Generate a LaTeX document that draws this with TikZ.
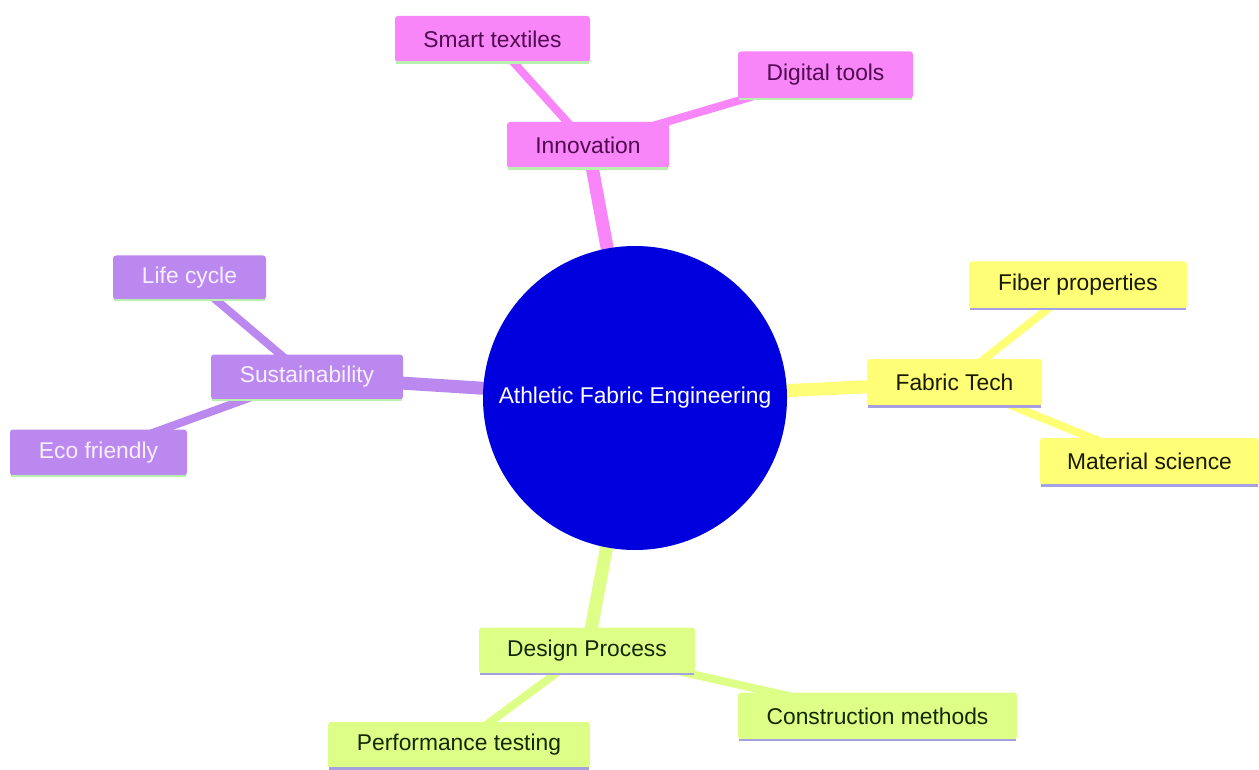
\documentclass[tikz,border=0pt]{standalone}
\usepackage{fontspec}
\setmainfont{Liberation Sans}
\usetikzlibrary{backgrounds}
\definecolor{pinkbox}{RGB}{249,134,249}
\definecolor{purplebox}{RGB}{187,136,240}
\definecolor{yellowbox}{RGB}{255,255,119}
\definecolor{greenbox}{RGB}{221,255,136}
\definecolor{centerblue}{RGB}{0,0,222}
\definecolor{pinktext}{RGB}{80,10,80}
\definecolor{purpletext}{RGB}{248,240,255}
\definecolor{yellowtext}{RGB}{25,25,0}
\definecolor{greentext}{RGB}{20,40,0}
\definecolor{greenline}{RGB}{185,240,175}
\definecolor{lavline}{RGB}{165,160,225}
\tikzset{
  mmbox/.style n args={2}{draw=none, fill=#1, text=#2, rounded corners=3pt,
    inner sep=0pt, font=\fontsize{22.8}{27}\selectfont},
  pinknode/.style={mmbox={pinkbox}{pinktext}},
  purplenode/.style={mmbox={purplebox}{purpletext}},
  yellownode/.style={mmbox={yellowbox}{yellowtext}},
  greennode/.style={mmbox={greenbox}{greentext}},
  underline/.style={line width=2.5pt},
  mainedge/.style={line width=13pt},
  childedge/.style={line width=8pt},
}
\begin{document}
\begin{tikzpicture}[x=1pt,y=-1pt]
\useasboundingbox (0,0) rectangle (1259,770);

\node[circle, fill=centerblue, text=white, minimum size=304pt, inner sep=0pt,
  font=\fontsize{22.8}{27}\selectfont] (root) at (635,398) {Athletic Fabric Engineering};

% Innovation branch
\node[pinknode, minimum width=162pt, minimum height=46pt] (innov) at (588,145) {Innovation};
\node[pinknode, minimum width=195pt, minimum height=46pt] (smart) at (492.5,39) {Smart textiles};
\node[pinknode, minimum width=175pt, minimum height=47pt] (digital) at (825.5,75) {Digital tools};

% Sustainability branch
\node[purplenode, minimum width=192pt, minimum height=45pt] (sust) at (307,377) {Sustainability};
\node[purplenode, minimum width=153pt, minimum height=44pt] (life) at (189.5,277.5) {Life cycle};
\node[purplenode, minimum width=177pt, minimum height=46pt] (eco) at (98.5,452.5) {Eco friendly};

% Fabric Tech branch
\node[yellownode, minimum width=175pt, minimum height=47pt] (fabric) at (954.5,382.5) {Fabric Tech};
\node[yellownode, minimum width=218pt, minimum height=47pt] (fiber) at (1078,285) {Fiber properties};
\node[yellownode, minimum width=219pt, minimum height=47pt] (material) at (1149.5,461.5) {Material science};

% Design Process branch
\node[greennode, minimum width=216pt, minimum height=46pt] (design) at (587,650.5) {Design Process};
\node[greennode, minimum width=262pt, minimum height=46pt] (perf) at (459,745) {Performance testing};
\node[greennode, minimum width=279pt, minimum height=47pt] (constr) at (877.5,716) {Construction methods};

% bottom accent lines
\foreach \n/\c in {innov/greenline, smart/greenline, digital/greenline,
                   sust/greenline, life/greenline, eco/greenline,
                   fabric/lavline, fiber/lavline, material/lavline,
                   design/lavline, perf/lavline, constr/lavline}
  \draw[underline, draw=\c] ([xshift=1.5pt,yshift=-0.5pt]\n.south west) -- ([xshift=-1.5pt,yshift=-0.5pt]\n.south east);

\begin{pgfonlayer}{background}
\fill[white] (0,0) rectangle (1259,770);
\draw[mainedge, pinkbox] (root.center) -- (innov.center);
\draw[childedge, pinkbox] (innov.center) -- (smart.center);
\draw[childedge, pinkbox] (innov.center) -- (digital.center);
\draw[mainedge, purplebox] (root.center) -- (sust.center);
\draw[childedge, purplebox] (sust.center) -- (life.center);
\draw[childedge, purplebox] (sust.center) -- (eco.center);
\draw[mainedge, yellowbox] (root.center) -- (fabric.center);
\draw[childedge, yellowbox] (fabric.center) -- (fiber.center);
\draw[childedge, yellowbox] (fabric.center) -- (material.center);
\draw[mainedge, greenbox] (root.center) -- (design.center);
\draw[childedge, greenbox] (design.center) -- (perf.center);
\draw[childedge, greenbox] (design.center) -- (constr.center);
\end{pgfonlayer}
\end{tikzpicture}
\end{document}
